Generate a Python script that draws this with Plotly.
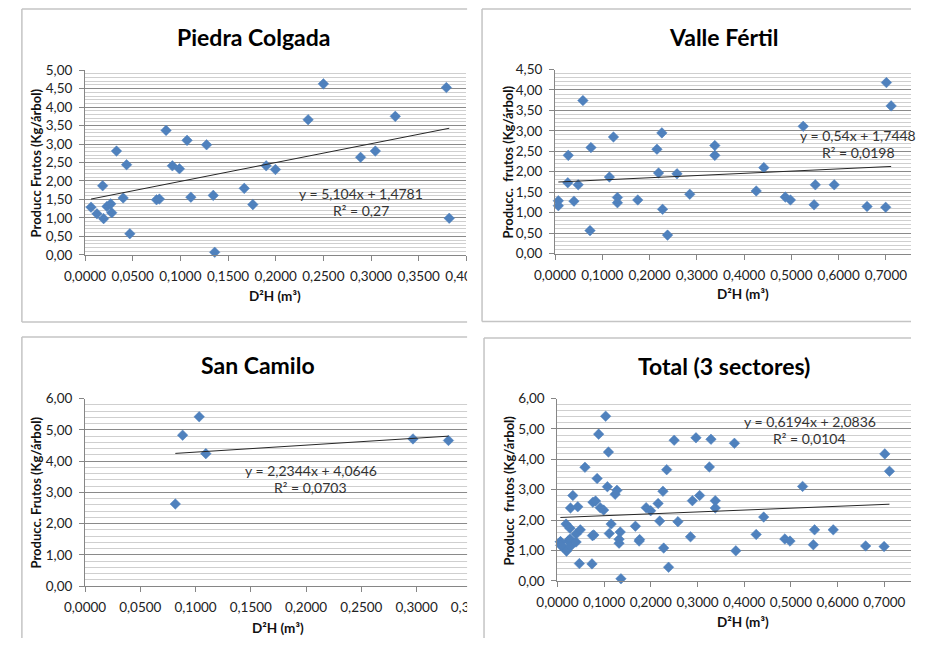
import plotly.graph_objects as go

W, H = 932, 646

# ---------------- data ----------------
pc_x = [0.0063, 0.0125, 0.0185, 0.0195, 0.0230, 0.0270, 0.0280, 0.0330, 0.0400, 0.0436,
        0.0470, 0.0750, 0.0780, 0.0850, 0.0916, 0.0990, 0.1070, 0.1110, 0.1275, 0.1345,
        0.1360, 0.1670, 0.1760, 0.1900, 0.1997, 0.2340, 0.2500, 0.2890, 0.3045, 0.3254,
        0.3790, 0.3820]
pc_y = [1.29, 1.11, 1.87, 0.98, 1.31, 1.38, 1.14, 2.81, 1.54, 2.44,
        0.57, 1.49, 1.51, 3.37, 2.41, 2.33, 3.10, 1.56, 2.98, 1.61,
        0.07, 1.80, 1.36, 2.41, 2.31, 3.66, 4.63, 2.64, 2.81, 3.75,
        4.53, 0.99]

vf_x = [0.0070, 0.0070, 0.0280, 0.0270, 0.0400, 0.0490, 0.0590, 0.0740, 0.0760, 0.1150,
        0.1236, 0.1320, 0.1320, 0.1750, 0.2156, 0.2190, 0.2260, 0.2275, 0.2380, 0.2580,
        0.2850, 0.3380, 0.3380, 0.4256, 0.4417, 0.4870, 0.4980, 0.5250, 0.5480, 0.5506,
        0.5906, 0.6600, 0.6995, 0.7010, 0.7110]
vf_y = [1.29, 1.17, 2.40, 1.73, 1.28, 1.68, 3.74, 0.56, 2.59, 1.87,
        2.85, 1.37, 1.24, 1.31, 2.55, 1.97, 2.95, 1.08, 0.45, 1.95,
        1.45, 2.64, 2.40, 1.53, 2.10, 1.38, 1.31, 3.11, 1.19, 1.68,
        1.68, 1.15, 1.13, 4.18, 3.61]

sc_x = [0.0817, 0.0883, 0.1033, 0.1093, 0.2967, 0.3288]
sc_y = [2.63, 4.83, 5.42, 4.24, 4.71, 4.66]

tot_x = pc_x + vf_x + sc_x
tot_y = pc_y + vf_y + sc_y

titles = ["Piedra Colgada", "Valle Fértil", "San Camilo", "Total (3 sectores)"]
y_titles = ["Producc Frutos (Kg/árbol)", "Producc.  frutos (Kg/árbol)",
            "Producc. Frutos (Kg/árbol)", "Producc  frutos (Kg/árbol)"]
x_title = "D²H (m³)"
slopes = [5.104, 0.54, 2.2344, 0.6194]
intercepts = [1.4781, 1.7448, 4.0646, 2.0836]
eq_text = ["y = 5,104x + 1,4781", "y = 0,54x + 1,7448",
           "y = 2,2344x + 4,0646", "y = 0,6194x + 2,0836"]
r2_text = ["R² = 0,27", "R² = 0,0198", "R² = 0,0703", "R² = 0,0104"]
y_max = [5.0, 4.5, 6.0, 6.0]
y_step = [0.5, 0.5, 1.0, 1.0]
x_max = [0.4, 0.8, 0.35, 0.8]
x_step = [0.05, 0.1, 0.05, 0.1]

series = [(pc_x, pc_y), (vf_x, vf_y), (sc_x, sc_y), (tot_x, tot_y)]

# ---------------- layout helpers ----------------
# the photographed page shows the figure inset and slightly shrunk; positions below are
# given in picture pixels and converted to figure-paper fractions
SX, OX = 0.959, 18.0
SY, OY = 0.972, 8.0

def fxp(p):            # picture x -> figure px
    return (p - OX) / SX

def fyp(p):            # picture y -> figure px
    return (p - OY) / SY

def px(p):
    return min(max(fxp(p) / W, 0.0), 1.0)

def py(p):
    return min(max(1 - fyp(p) / H, 0.0), 1.0)

# plot-area boxes in picture px: left, right, top, bottom, picture x of x_max
boxes = [
    (82.3, 465.3, 70.0, 254.0, 465.3),
    (554.3, 932.0, 69.3, 252.7, 934.1),
    (82.3, 470.8, 397.3, 584.3, 470.8),
    (556.7, 932.0, 397.3, 579.0, 931.9),
]
title_pos = [(252, 37), (724, 37), (256, 364), (724, 365)]
ytitle_pos = [(33, 162), (507, 161), (33, 491), (508, 489)]
xtitle_pos = [(273, 295), (743, 293), (276, 626), (743, 620)]
eq_pos = [(359, 193), (859, 135), (309, 469), (810, 420)]
panel_rect = [(8, 466, 8, 321), (481, 932, 8, 320.5), (8, 466, 336, 646), (483, 932, 337, 646)]

FONT = "Lato"
BLUE = "#4F81BD"
fig = go.Figure()
annotations = []
shapes = []
borders = []

def seg(xa_, ya_, xb_, yb_):
    x0_, x1_ = max(px(xa_), 0.001), max(px(xb_), 0.001)
    y0_, y1_ = min(py(ya_), 0.9985), min(py(yb_), 0.9985)
    return dict(type="line", xref="paper", yref="paper", x0=x0_, y0=y0_, x1=x1_, y1=y1_,
                line=dict(color="#c4c4c4", width=1.5), layer="above")

for i in range(4):
    n = i + 1
    xa = "x" if n == 1 else f"x{n}"
    ya = "y" if n == 1 else f"y{n}"
    sx, sy = series[i]
    fig.add_trace(go.Scatter(
        x=sx, y=sy, mode="markers", xaxis=xa, yaxis=ya,
        marker=dict(symbol="diamond", size=8.1, color=BLUE,
                    line=dict(width=0.5, color=BLUE)),
        showlegend=False, cliponaxis=False))
    x0, x1 = min(sx), max(sx)
    fig.add_trace(go.Scatter(
        x=[x0, x1], y=[slopes[i] * x0 + intercepts[i], slopes[i] * x1 + intercepts[i]],
        mode="lines", xaxis=xa, yaxis=ya, line=dict(color="#262626", width=1),
        showlegend=False))

    l, r, t, b, rmax = boxes[i]
    # visible x range: clipped where the figure ends
    r_fig = min(fxp(r), W)
    x_end = x_max[i] * (r_fig - fxp(l)) / (fxp(rmax) - fxp(l))
    axkey_x = "xaxis" if n == 1 else f"xaxis{n}"
    axkey_y = "yaxis" if n == 1 else f"yaxis{n}"
    fig.update_layout(**{
        axkey_x: dict(domain=[px(l), r_fig / W], range=[0, x_end], tick0=0, dtick=x_step[i],
                      tickformat=".4f", showgrid=False, zeroline=False,
                      showline=True, linecolor="#868686", linewidth=1,
                      ticks="outside", ticklen=5, tickcolor="#868686",
                      tickfont=dict(family=FONT, size=13.5, color="#222"),
                      ticklabelstandoff=4,
                      anchor=ya, fixedrange=True),
        axkey_y: dict(domain=[py(b), py(t)], range=[0, y_max[i]], tick0=0, dtick=y_step[i],
                      tickformat=".2f", showgrid=True, gridcolor="#8a8a8a", gridwidth=1,
                      zeroline=False, showline=True, linecolor="#868686", linewidth=1,
                      ticks="outside", ticklen=5, tickcolor="#868686",
                      tickfont=dict(family=FONT, size=13.5, color="#222"),
                      ticklabelstandoff=4,
                      minor=dict(dtick=y_step[i] / 5, showgrid=True, gridcolor="#cfcfcf",
                                 gridwidth=1, ticks=""),
                      anchor=xa, fixedrange=True),
    })

    tx, ty = title_pos[i]
    annotations.append(dict(text=f"<b>{titles[i]}</b>", x=px(tx), y=py(ty), xref="paper",
                            yref="paper", showarrow=False, xanchor="center", yanchor="middle",
                            font=dict(family=FONT, size=23, color="#000")))
    yx, yy = ytitle_pos[i]
    annotations.append(dict(text=f"<b>{y_titles[i]}</b>", x=px(yx), y=py(yy), xref="paper",
                            yref="paper", showarrow=False, textangle=-90,
                            xanchor="center", yanchor="middle",
                            font=dict(family=FONT, size=13, color="#111")))
    xx, xy = xtitle_pos[i]
    annotations.append(dict(text=f"<b>{x_title}</b>", x=px(xx), y=py(xy), xref="paper",
                            yref="paper", showarrow=False, xanchor="center", yanchor="middle",
                            font=dict(family=FONT, size=13.5, color="#111")))
    ex, ey = eq_pos[i]
    annotations.append(dict(text=eq_text[i], x=px(ex), y=py(ey), xref="paper", yref="paper",
                            showarrow=False, xanchor="center", yanchor="middle",
                            font=dict(family=FONT, size=14, color="#333")))
    annotations.append(dict(text=r2_text[i], x=px(ex), y=py(ey + 17), xref="paper",
                            yref="paper", showarrow=False, xanchor="center", yanchor="middle",
                            font=dict(family=FONT, size=14, color="#333")))

    rx0, rx1, ry0, ry1 = panel_rect[i]
    borders.append(seg(rx0, ry0, rx1, ry0))          # top
    borders.append(seg(rx0, ry0, rx0, ry1))          # left
    if ry1 < H:
        borders.append(seg(rx0, ry1, rx1, ry1))      # bottom

# white strip that crops the left-hand charts at their right edge
shapes.append(dict(type="rect", xref="paper", yref="paper", x0=px(466), x1=px(498),
                   y0=0, y1=1, line=dict(width=0), fillcolor="white", layer="above"))
shapes.extend(borders)

fig.update_layout(
    width=W, height=H, margin=dict(l=0, r=0, t=0, b=0),
    paper_bgcolor="white", plot_bgcolor="white",
    separators=",.", annotations=annotations, shapes=shapes,
    font=dict(family=FONT), showlegend=False,
)

fig.write_html("out.html", config={"responsive": False, "displayModeBar": False},
               post_script="document.body.style.margin='0';document.body.style.overflow='hidden';")
